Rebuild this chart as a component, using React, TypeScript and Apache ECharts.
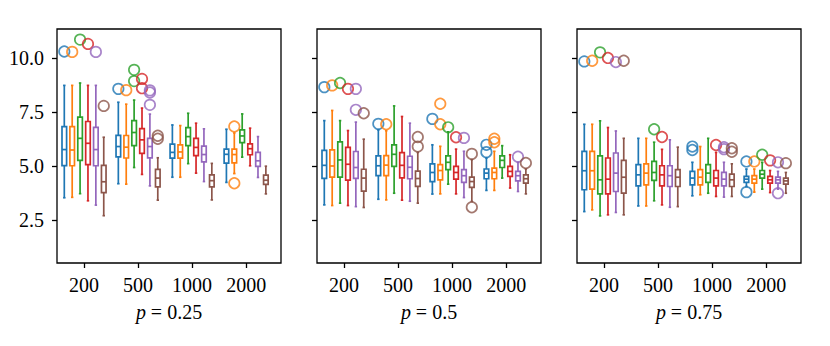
import React, { useEffect, useRef } from 'react';
import * as echarts from 'echarts';

const categories = ['200', '500', '1000', '2000'];
const panelLabels = ['0.25', '0.5', '0.75'];
const colors = ['#1f77b4', '#ff7f0e', '#2ca02c', '#d62728', '#9467bd', '#8c564b'];
const yTicks = [2.5, 5, 7.5, 10];

// [low whisker, q1, median, q3, high whisker] for each series (blue..brown), per category
const boxesP025 = [
  [[3.55, 5.04, 5.78, 6.84, 8.75], [4.2, 5.44, 5.92, 6.44, 7.97], [4.5, 5.38, 5.65, 6.03, 6.92], [4.26, 5.15, 5.56, 5.8, 6.72]],
  [[3.57, 5.03, 5.76, 6.84, 8.75], [4.18, 5.39, 5.89, 6.43, 7.88], [4.5, 5.38, 5.67, 6.0, 6.89], [4.67, 5.16, 5.55, 5.8, 6.55]],
  [[3.74, 5.28, 6.3, 7.28, 8.86], [4.95, 5.96, 6.57, 7.12, 8.07], [5.13, 5.96, 6.38, 6.8, 7.46], [5.43, 6.1, 6.41, 6.69, 7.43]],
  [[3.41, 5.08, 6.07, 7.08, 8.75], [4.63, 5.6, 6.23, 6.75, 7.7], [4.69, 5.5, 5.88, 6.3, 7.0], [5.03, 5.54, 5.82, 6.04, 6.77]],
  [[3.21, 5.03, 5.78, 6.81, 8.75], [4.1, 5.4, 5.92, 6.3, 7.42], [4.3, 5.21, 5.55, 5.94, 6.74], [4.49, 5.0, 5.26, 5.65, 6.38]],
  [[2.72, 3.79, 4.29, 5.05, 6.35], [3.44, 4.05, 4.46, 4.86, 5.4], [3.45, 4.05, 4.34, 4.61, 5.14], [3.73, 4.17, 4.36, 4.6, 5.01]],
];
const boxesP050 = [
  [[3.22, 4.45, 5.05, 5.74, 7.12], [3.48, 4.57, 5.03, 5.49, 6.69], [3.72, 4.3, 4.72, 5.12, 6.0], [3.89, 4.43, 4.69, 4.88, 5.39]],
  [[3.19, 4.5, 5.02, 5.77, 7.59], [3.45, 4.57, 5.06, 5.5, 6.65], [3.73, 4.38, 4.81, 5.08, 5.93], [3.89, 4.43, 4.72, 4.92, 5.7]],
  [[3.3, 4.5, 5.3, 6.14, 7.12], [3.76, 5.0, 5.56, 6.0, 7.8], [4.18, 4.85, 5.19, 5.49, 6.6], [4.46, 4.95, 5.28, 5.49, 5.96]],
  [[3.19, 4.37, 5.1, 5.88, 6.66], [3.44, 4.47, 5.05, 5.64, 7.31], [3.73, 4.41, 4.72, 5.0, 5.8], [4.0, 4.54, 4.77, 5.0, 5.54]],
  [[3.14, 4.45, 4.95, 5.69, 7.05], [3.39, 4.43, 4.96, 5.47, 7.0], [3.56, 4.26, 4.57, 4.85, 5.7], [3.84, 4.33, 4.57, 4.77, 5.19]],
  [[3.1, 3.86, 4.46, 4.87, 6.26], [3.3, 4.08, 4.44, 4.78, 5.65], [3.38, 4.03, 4.3, 4.5, 5.31], [3.73, 4.23, 4.43, 4.61, 4.88]],
];
const boxesP075 = [
  [[2.91, 3.92, 4.8, 5.7, 6.95], [3.17, 4.1, 4.61, 5.08, 6.3], [3.64, 4.15, 4.46, 4.77, 5.19], [4.07, 4.26, 4.41, 4.54, 4.88]],
  [[2.99, 3.95, 4.8, 5.7, 6.95], [3.17, 4.15, 4.69, 5.12, 6.3], [3.69, 4.15, 4.5, 4.85, 5.92], [3.81, 4.23, 4.41, 4.57, 4.88]],
  [[2.71, 3.73, 4.38, 5.49, 7.11], [3.41, 4.35, 4.72, 5.23, 6.12], [3.76, 4.26, 4.69, 5.08, 6.3], [3.95, 4.46, 4.64, 4.81, 5.19]],
  [[2.76, 3.73, 4.41, 5.39, 6.8], [3.22, 4.1, 4.61, 5.03, 5.79], [3.61, 4.1, 4.46, 4.81, 5.65], [3.79, 4.23, 4.38, 4.54, 4.81]],
  [[2.87, 3.84, 4.69, 5.62, 6.64], [3.11, 4.07, 4.57, 5.03, 6.23], [3.58, 4.1, 4.41, 4.72, 5.19], [3.95, 4.23, 4.38, 4.5, 4.77]],
  [[2.76, 3.76, 4.5, 5.28, 6.3], [3.14, 4.07, 4.5, 4.85, 5.89], [3.61, 4.07, 4.38, 4.64, 5.12], [3.76, 4.18, 4.33, 4.46, 4.72]],
];

// outliers: [category index, value] per series
const outliersP025 = [
  [[0, 10.32], [1, 8.59]],
  [[0, 10.3], [1, 8.53], [3, 6.85], [3, 4.22]],
  [[0, 10.87], [1, 9.47], [1, 8.95]],
  [[0, 10.67], [1, 9.05], [1, 8.62]],
  [[0, 10.3], [1, 8.52], [1, 8.42], [1, 7.85]],
  [[0, 7.8], [1, 6.42], [1, 6.28]],
];
const outliersP050 = [
  [[0, 8.67], [1, 6.97], [2, 7.2], [3, 6.0], [3, 5.66]],
  [[0, 8.75], [1, 6.95], [2, 7.9], [2, 6.95], [3, 6.28], [3, 6.12]],
  [[0, 8.86], [2, 6.81]],
  [[0, 8.59], [2, 6.35]],
  [[0, 8.59], [0, 7.62], [2, 6.32], [3, 5.45]],
  [[0, 7.46], [1, 6.36], [1, 5.92], [2, 5.58], [2, 3.11], [3, 5.16]],
];
const outliersP075 = [
  [[0, 9.86], [2, 5.92], [2, 5.76], [3, 5.23], [3, 3.81]],
  [[0, 9.89], [3, 5.23]],
  [[0, 10.28], [1, 6.72], [3, 5.54]],
  [[0, 10.02], [1, 6.36], [2, 5.99], [3, 5.28]],
  [[0, 9.83], [2, 5.89], [2, 5.8], [3, 5.19], [3, 3.76]],
  [[0, 9.89], [2, 5.84], [2, 5.68], [3, 5.15]],
];

const panelBoxes = [boxesP025, boxesP050, boxesP075];
const panelOutliers = [outliersP025, outliersP050, outliersP075];

const FONT = '"Liberation Serif", "DejaVu Serif", serif';
const FS = 20;
const OFFSET = 0.146;
const BOX_W = 0.085;
const CAP_W = 0.045;
const LW = 1.7;

export default function App() {
  const ref = useRef<HTMLDivElement>(null);
  useEffect(() => {
    if (!ref.current) return;
    const chart = echarts.init(ref.current, null, { renderer: 'svg' });
    const lefts = [57, 317, 577];
    const grid = lefts.map((l) => ({
      left: l, top: 29, width: 224, height: 234, show: true,
      borderColor: '#000', borderWidth: 1.3, backgroundColor: 'transparent', containLabel: false,
    }));
    const xAxis = panelLabels.map((p, i) => ({
      type: 'value', gridIndex: i, min: 0.5, max: 4.645,
      name: '{i|p} = ' + p, nameLocation: 'middle', nameGap: 39,
      nameTextStyle: { fontFamily: FONT, fontSize: FS, color: '#000', rich: { i: { fontFamily: FONT, fontSize: FS, fontStyle: 'italic', color: '#000' } } },
      axisLine: { show: false },
      splitLine: { show: false },
      axisTick: { show: true, length: 5, lineStyle: { color: '#000', width: 1.3 }, customValues: [1, 2, 3, 4] },
      axisLabel: {
        show: true, margin: 12, fontFamily: FONT, fontSize: FS, color: '#000',
        customValues: [1, 2, 3, 4],
        formatter: (v: number) => categories[Math.round(v) - 1] ?? '',
      },
    }));
    const yAxis = panelLabels.map((_, i) => ({
      type: 'value', gridIndex: i, min: 0.53, max: 11.36,
      axisLine: { show: false },
      splitLine: { show: false },
      axisTick: { show: true, length: 5, lineStyle: { color: '#000', width: 1.3 }, customValues: yTicks },
      axisLabel: {
        show: i === 0, margin: 13, fontFamily: FONT, fontSize: FS, color: '#000',
        customValues: yTicks,
        formatter: (v: number) => v.toFixed(1),
      },
    }));
    const series: any[] = [];
    panelBoxes.forEach((boxes, pi) => {
      boxes.forEach((seriesBoxes, si) => {
        const color = colors[si];
        const off = (si - 2.5) * OFFSET;
        series.push({
          type: 'custom', xAxisIndex: pi, yAxisIndex: pi,
          encode: { x: 0, y: [1, 2, 3, 4, 5] },
          data: seriesBoxes.map((b, ci) => [ci + 1 + off, ...b]),
          renderItem: (params: any, api: any) => {
            const x = api.value(0);
            const lo = api.coord([x, api.value(1)]);
            const q1 = api.coord([x, api.value(2)]);
            const md = api.coord([x, api.value(3)]);
            const q3 = api.coord([x, api.value(4)]);
            const hi = api.coord([x, api.value(5)]);
            const bw = api.size([BOX_W, 0])[0];
            const cw = api.size([CAP_W, 0])[0];
            const cx = lo[0];
            const style = { stroke: color, lineWidth: LW, fill: 'none' };
            return {
              type: 'group',
              children: [
                { type: 'line', shape: { x1: cx, y1: lo[1], x2: cx, y2: q1[1] }, style },
                { type: 'line', shape: { x1: cx, y1: q3[1], x2: cx, y2: hi[1] }, style },
                { type: 'line', shape: { x1: cx - cw / 2, y1: lo[1], x2: cx + cw / 2, y2: lo[1] }, style },
                { type: 'line', shape: { x1: cx - cw / 2, y1: hi[1], x2: cx + cw / 2, y2: hi[1] }, style },
                { type: 'rect', shape: { x: cx - bw / 2, y: q3[1], width: bw, height: q1[1] - q3[1] }, style },
                { type: 'line', shape: { x1: cx - bw / 2, y1: md[1], x2: cx + bw / 2, y2: md[1] }, style },
              ],
            };
          },
        });
        series.push({
          type: 'scatter', xAxisIndex: pi, yAxisIndex: pi,
          symbol: 'circle', symbolSize: 10.5,
          itemStyle: { color: 'rgba(0,0,0,0)', borderColor: color, borderWidth: LW },
          data: panelOutliers[pi][si].map(([ci, v]) => [ci + 1 + off, v]),
        });
      });
    });
    chart.setOption({
      animation: false,
      backgroundColor: '#fff',
      grid, xAxis, yAxis, series,
    });
    return () => chart.dispose();
  }, []);
  return <div ref={ref} style={{ position: 'absolute', left: 0, top: 0, width: 830, height: 346 }} />;
}
